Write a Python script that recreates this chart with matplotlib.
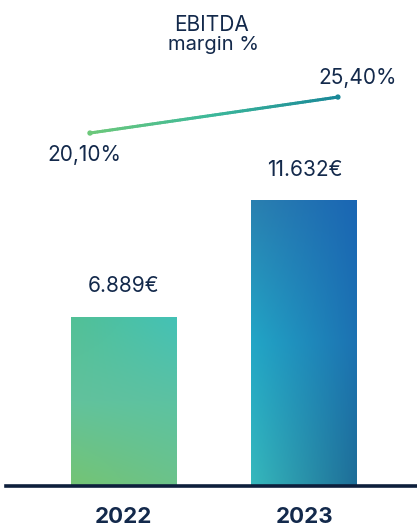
import numpy as np
import matplotlib.pyplot as plt
from matplotlib.collections import LineCollection
from matplotlib.colors import to_rgb, LinearSegmentedColormap

years = ["2022", "2023"]
ebitda = [6889, 11632]
ebitda_labels = ["6.889€", "11.632€"]
margin = [20.10, 25.40]
margin_labels = ["20,10%", "25,40%"]

NAVY = "#13294b"
plt.rcParams['font.family'] = ['Inter', 'DejaVu Sans']

# bar gradients: rows top -> bottom, each row (left colour, right colour)
bar_grids = [
    [("#52c096", "#44c2b6"), ("#62c29c", "#5cc2a2"), ("#74c474", "#6cc28a")],
    [("#2a80b0", "#1a66b4"), ("#22a6c6", "#1c72b2"), ("#36b8bc", "#1e6e98")],
]


def grid_gradient(rows, n=80):
    rows = [[np.array(to_rgb(c)) for c in r] for r in rows]
    u = np.linspace(0, 1, n)[None, :, None]
    lines = [l * (1 - u) + r * u for l, r in rows]  # each (1, n, 3)
    out = np.zeros((n, n, 3))
    t = np.linspace(0, len(rows) - 1, n)
    for i, ti in enumerate(t):
        k = min(int(ti), len(rows) - 2)
        f = ti - k
        out[i] = (lines[k] * (1 - f) + lines[k + 1] * f)[0]
    return out


fig = plt.figure(figsize=(4.17, 5.28), dpi=100)
ax = fig.add_axes([6 / 417, 1 - 486 / 528, 411 / 417, 486 / 528])

x = np.arange(len(years))
width = 0.585
bars = ax.bar(x, ebitda, width=width, color="none", edgecolor="none", zorder=2)
for bar, grid in zip(bars, bar_grids):
    x0, y0 = bar.get_x(), bar.get_y()
    img = ax.imshow(grid_gradient(grid), extent=[x0, x0 + bar.get_width(), y0, y0 + bar.get_height()],
                    aspect="auto", origin="upper", zorder=2)
    img.set_clip_path(bar)

ax.set_xlim(-0.649, 1.622)
ax.set_ylim(0, 19766)

for xi, v, lab in zip(x, ebitda, ebitda_labels):
    ax.text(xi, v + 1240, lab, ha="center", va="center", fontsize=15, color=NAVY)

ax.axhline(0, color="#0d1f3c", lw=2.6, zorder=3, clip_on=False)
for s in ax.spines.values():
    s.set_visible(False)
ax.set_xticks([])
ax.set_yticks([])
for xi, yr in zip(x, years):
    ax.annotate(yr, (xi, 0), xycoords=("data", "axes fraction"), xytext=(0, -22),
                textcoords="offset points", ha="center", va="center",
                fontsize=16, fontweight="bold", color=NAVY, annotation_clip=False)

# margin line on its own scale, drawn with a green-to-teal gradient
ax2 = ax.twinx()
ax2.set_ylim(-31.9, 39.7)
ax2.axis("off")
line_x = x + np.array([-0.185, 0.185])
n = 100
lx = np.linspace(line_x[0], line_x[1], n)
ly = np.linspace(margin[0], margin[1], n)
pts = np.column_stack([lx, ly]).reshape(-1, 1, 2)
segs = np.concatenate([pts[:-1], pts[1:]], axis=1)
cmap = LinearSegmentedColormap.from_list("margin", ["#6cc87a", "#3cb89a", "#1a8898"])
lc = LineCollection(segs, cmap=cmap, linewidth=2.2, capstyle="round")
lc.set_array(np.linspace(0, 1, n - 1))
ax2.add_collection(lc)
ax2.scatter(line_x, margin, s=8, color=["#6cc87a", "#1a8898"], zorder=4)

ax2.text(line_x[0] - 0.03, margin[0] - 3.17, margin_labels[0], ha="center", va="center", fontsize=15, color=NAVY)
ax2.text(line_x[1] + 0.11, margin[1] + 2.87, margin_labels[1], ha="center", va="center", fontsize=15, color=NAVY)

fig.text(212 / 417, 1 - 25 / 528, "EBITDA", ha="center", va="center", fontsize=15, color=NAVY)
fig.text(213 / 417, 1 - 45 / 528, "margin %", ha="center", va="center", fontsize=14.5, color=NAVY)

fig.savefig("out.png", dpi=100)
